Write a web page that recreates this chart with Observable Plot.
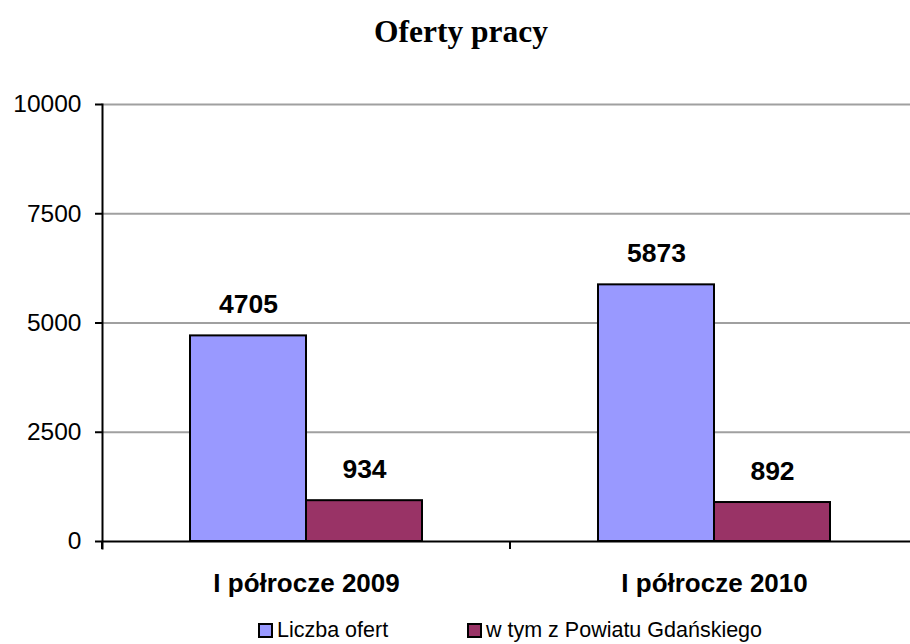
<!DOCTYPE html>
<html>
<head>
<meta charset="utf-8">
<script src="https://cdn.jsdelivr.net/npm/d3@7"></script>
<script src="https://cdn.jsdelivr.net/npm/@observablehq/plot@0.6"></script>
<style>
  html, body { margin: 0; padding: 0; background: white; }
  #wrap { position: relative; width: 910px; height: 644px; overflow: hidden; background: white; }
  #title { position: absolute; top: 14px; left: 461px; transform: translateX(-50%); white-space: nowrap; z-index: 2;
    font-family: "Liberation Serif", "Times New Roman", serif; font-weight: bold; font-size: 31.5px; color: #000; }
  #chart { position: absolute; top: 0; left: 0; width: 918px; z-index: 1; }
  #chart svg { max-width: none !important; }
  .legend { position: absolute; top: 618px; display: flex; align-items: center; white-space: nowrap; z-index: 2;
    font-family: "Liberation Sans", Arial, sans-serif; font-size: 21.5px; color: #000; }
  .sw { display: inline-block; width: 11px; height: 11px; border: 2px solid #000; margin-right: 4px; }
</style>
</head>
<body>
<div id="wrap">
  <div id="title">Oferty pracy</div>
  <div id="chart"></div>
  <div class="legend" id="leg1" style="left:258px"></div>
  <div class="legend" id="leg2" style="left:467px"></div>
</div>
<script>
const categories = ["I półrocze 2009", "I półrocze 2010"];
const seriesNames = ["Liczba ofert", "w tym z Powiatu Gdańskiego"];
const liczbaOfert = [4705, 5873];
const powiatGdanski = [934, 892];
const yTicks = [0, 2500, 5000, 7500, 10000];
const colors = ["#9999ff", "#993366"];

const rows1 = categories.map((c, i) => ({cat: c, value: liczbaOfert[i]}));
const rows2 = categories.map((c, i) => ({cat: c, value: powiatGdanski[i]}));

const boundaryTicks = (index, scales) => {
  const g = d3.create("svg:g");
  const x = scales.x, y = scales.y;
  const bw = x.bandwidth();
  const pos = categories.map(c => x(c)).concat([x(categories[categories.length - 1]) + bw]);
  pos.forEach(px => {
    g.append("line").attr("x1", px).attr("x2", px)
      .attr("y1", y(0)).attr("y2", y(0) + 8)
      .attr("stroke", "black").attr("stroke-width", 2);
  });
  return g.node();
};

const chart = Plot.plot({
  width: 918,
  height: 600,
  marginLeft: 102,
  marginRight: 0,
  marginTop: 104,
  marginBottom: 59,
  style: {fontFamily: "'Liberation Sans', Arial, sans-serif", fontSize: "24px", background: "transparent", color: "black", overflow: "visible", maxWidth: "none"},
  x: {domain: categories, padding: 0, axis: null, label: null},
  y: {domain: [0, 10000], axis: null, label: null},
  marks: [
    Plot.gridY(yTicks.slice(1), {stroke: "#a0a0a0", strokeOpacity: 1, strokeWidth: 2}),
    Plot.barY(rows1, {x: "cat", y: "value", fill: colors[0], stroke: "black", strokeWidth: 2, insetLeft: 88, insetRight: 204}),
    Plot.barY(rows2, {x: "cat", y: "value", fill: colors[1], stroke: "black", strokeWidth: 2, insetLeft: 204, insetRight: 88}),
    Plot.text(rows1, {x: "cat", y: "value", text: d => String(d.value), dx: -58, dy: -31, fontWeight: "bold", fontSize: 26.5, fill: "black"}),
    Plot.text(rows2, {x: "cat", y: "value", text: d => String(d.value), dx: 58, dy: -31, fontWeight: "bold", fontSize: 26.5, fill: "black"}),
    Plot.ruleY([0], {stroke: "black", strokeWidth: 2}),
    Plot.frame({anchor: "left", stroke: "black", strokeWidth: 2, insetBottom: -7}),
    Plot.axisY(yTicks, {tickSize: 7, tickPadding: 14, tickFormat: d => String(d), stroke: "black", strokeWidth: 2, fontSize: 24.5, fill: "black", label: null}),
    Plot.axisX({tickSize: 0, tickPadding: 32, fontWeight: "bold", fontSize: 26, fill: "black", label: null}),
    boundaryTicks
  ]
});
document.getElementById("chart").appendChild(chart);

[["leg1", 0], ["leg2", 1]].forEach(([id, i]) => {
  const el = document.getElementById(id);
  const sw = document.createElement("span");
  sw.className = "sw";
  sw.style.background = colors[i];
  el.appendChild(sw);
  el.appendChild(document.createTextNode(seriesNames[i]));
});
</script>
</body>
</html>
